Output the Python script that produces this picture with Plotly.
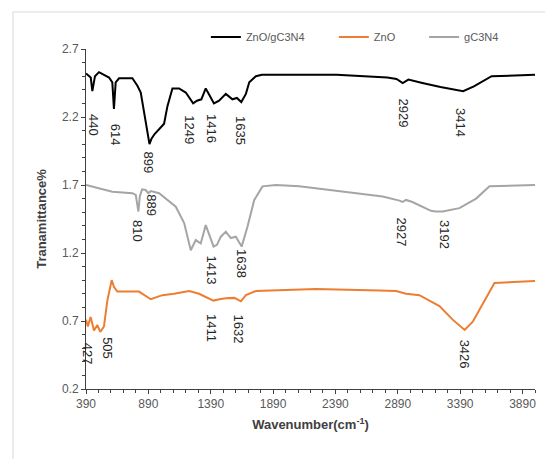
import plotly.graph_objects as go

# ---- data ----
black_wn = [390, 428, 441, 462, 494, 575, 601, 614, 628, 655, 762, 802, 829, 860, 899, 915, 940, 976, 1016, 1043, 1083,
            1136, 1190, 1249, 1280, 1315, 1350, 1380, 1416, 1457, 1511, 1564, 1600, 1635, 1672, 1699, 1752, 1800,
            2400, 2806, 2880, 2929, 2975, 3087, 3232, 3414, 3500, 3642, 3995]
black_t = [2.52, 2.49, 2.39, 2.50, 2.53, 2.49, 2.455, 2.26, 2.455, 2.485, 2.485, 2.43, 2.38, 2.21, 2.00, 2.04, 2.075,
           2.11, 2.15, 2.28, 2.41, 2.41, 2.38, 2.30, 2.32, 2.33, 2.41, 2.36, 2.30, 2.32, 2.37, 2.33, 2.34, 2.31,
           2.37, 2.455, 2.50, 2.51, 2.51, 2.49, 2.48, 2.45, 2.475, 2.45, 2.42, 2.39, 2.425, 2.50, 2.51]

gray_wn = [390, 494, 601, 762, 789, 810, 822, 840, 868, 889, 910, 976, 1030, 1110, 1177, 1230, 1270, 1310, 1350,
           1413, 1440, 1471, 1511, 1551, 1591, 1638, 1685, 1739, 1805, 1912, 2100, 2769, 2903, 2927, 2956, 3007,
           3156, 3192, 3250, 3384, 3518, 3625, 3990]
gray_t = [1.70, 1.676, 1.65, 1.64, 1.627, 1.505, 1.62, 1.668, 1.663, 1.64, 1.655, 1.64, 1.60, 1.54, 1.42, 1.22,
          1.295, 1.27, 1.405, 1.247, 1.26, 1.32, 1.357, 1.31, 1.32, 1.247, 1.395, 1.59, 1.69, 1.70, 1.69, 1.615,
          1.585, 1.575, 1.59, 1.575, 1.51, 1.505, 1.505, 1.53, 1.60, 1.69, 1.70]

orange_wn = [390, 405, 427, 454, 481, 505, 534, 561, 596, 615, 641, 815, 909, 1003, 1096, 1217, 1297, 1411, 1460,
             1511, 1580, 1632, 1672, 1752, 2234, 2635, 2742, 2876, 2903, 2956, 3063, 3224, 3330, 3426, 3491, 3571,
             3665, 3990]
orange_t = [0.71, 0.66, 0.73, 0.63, 0.67, 0.62, 0.66, 0.85, 1.00, 0.95, 0.916, 0.916, 0.86, 0.89, 0.90, 0.92, 0.90,
            0.85, 0.86, 0.867, 0.87, 0.845, 0.89, 0.92, 0.935, 0.93, 0.925, 0.92, 0.915, 0.90, 0.89, 0.81, 0.71,
            0.634, 0.695, 0.83, 0.98, 0.995]

peak_labels = ["440", "614", "899", "1249", "1416", "1635", "2929", "3414",
               "889", "810", "1413", "1638", "2927", "3192",
               "427", "505", "1411", "1632", "3426"]
peak_x = [454, 628, 890, 1222, 1391, 1632, 2935, 3392,
          909, 802, 1404, 1640, 2916, 3264,
          408, 561, 1391, 1613, 3432]
peak_y = [2.141, 2.071, 1.862, 2.104, 2.112, 2.097, 2.23, 2.16,
          1.553, 1.358, 1.075, 1.119, 1.358, 1.336,
          0.457, 0.498, 0.649, 0.641, 0.457]

series_names = ["ZnO/gC3N4", "ZnO", "gC3N4"]
x_ticks = [390, 890, 1390, 1890, 2390, 2890, 3390, 3890]
y_ticks = [0.2, 0.7, 1.2, 1.7, 2.2, 2.7]

FONT = "Liberation Sans"
TICKC = "#595959"

fig = go.Figure()
fig.add_trace(go.Scatter(x=black_wn, y=black_t, mode="lines", name=series_names[0], legend="legend",
                         line=dict(color="#000000", width=2)))
fig.add_trace(go.Scatter(x=orange_wn, y=orange_t, mode="lines", name=series_names[1], legend="legend2",
                         line=dict(color="#ED7D31", width=2)))
fig.add_trace(go.Scatter(x=gray_wn, y=gray_t, mode="lines", name=series_names[2], legend="legend3",
                         line=dict(color="#A5A5A5", width=2)))

for lab, xx, yy in zip(peak_labels, peak_x, peak_y):
    fig.add_annotation(x=xx, y=yy, text=lab, showarrow=False, textangle=90,
                       font=dict(family=FONT, size=13, color="#262626"))

leg_common = dict(orientation="h", y=1.035, xanchor="left", yanchor="middle",
                  font=dict(size=11, color=TICKC), bgcolor="rgba(0,0,0,0)")

fig.update_layout(
    width=553, height=459,
    margin=dict(l=78, r=26, t=41, b=78),
    paper_bgcolor="white", plot_bgcolor="white",
    font=dict(family=FONT, color=TICKC),
    showlegend=True,
    legend=dict(x=0.267, **leg_common),
    legend2=dict(x=0.552, **leg_common),
    legend3=dict(x=0.753, **leg_common),
    xaxis=dict(range=[390, 3990], tickvals=x_ticks, ticktext=[str(v) for v in x_ticks],
               showgrid=False, zeroline=False, showline=True, linecolor="#404040", linewidth=1,
               ticks="outside", ticklen=4, tickcolor="#404040",
               minor=dict(dtick=100, tick0=390, ticks="outside", ticklen=3, tickcolor="#404040"),
               tickfont=dict(size=12, color=TICKC),
               title=dict(text="<b>Wavenumber(cm<sup>-1</sup>)</b>", font=dict(size=13, color="#404040"),
                          standoff=9)),
    yaxis=dict(range=[0.2, 2.7], tickvals=y_ticks, ticktext=[f"{v:.1f}" for v in y_ticks],
               showgrid=False, zeroline=False, showline=True, linecolor="#404040", linewidth=1,
               ticks="outside", ticklen=4, tickcolor="#404040",
               minor=dict(dtick=0.1, tick0=0.2, ticks="outside", ticklen=3, tickcolor="#404040"),
               tickfont=dict(size=12, color=TICKC),
               title=dict(text="<b>Tranamittance%</b>", font=dict(size=13, color="#404040"),
                          standoff=12)),
    shapes=[dict(type="rect", xref="paper", yref="paper", x0=-0.1626, x1=1.1, y0=-0.3, y1=1.109,
                 line=dict(color="#d9d9d9", width=1), layer="below")],
)

fig.write_html("out.html")
